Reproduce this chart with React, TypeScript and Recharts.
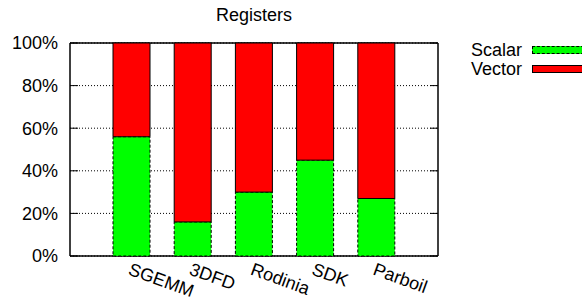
import React from 'react';
import { BarChart, Bar, XAxis, YAxis, CartesianGrid } from 'recharts';

const categories = ['SGEMM', '3DFD', 'Rodinia', 'SDK', 'Parboil'];
const scalarValues = [56, 16, 30, 45, 27];
const vectorValues = [44, 84, 70, 55, 73];
const yTicks = [0, 20, 40, 60, 80, 100];

const data = categories.map((name, i) => ({
  name,
  Scalar: scalarValues[i],
  Vector: vectorValues[i],
}));

const FONT = '"Liberation Sans", Arial, Helvetica, sans-serif';
const FS = 18;
const W = 582;
const H = 299;
const PLOT_LEFT = 70;
const PLOT_RIGHT = 438;
const PLOT_TOP = 43;
const PLOT_BOTTOM = 256;

const LeftTick = (props: any) => {
  const { y, payload } = props;
  return (
    <g>
      <line x1={PLOT_LEFT} x2={PLOT_LEFT + 8} y1={y} y2={y} stroke="#000" strokeWidth={1} />
      <line x1={PLOT_RIGHT - 8} x2={PLOT_RIGHT} y1={y} y2={y} stroke="#000" strokeWidth={1} />
      <text x={PLOT_LEFT - 12} y={y} dy="0.36em" textAnchor="end" fontSize={FS} fontFamily={FONT} fill="#000">
        {payload.value}%
      </text>
    </g>
  );
};

const BottomTick = (props: any) => {
  const { x, payload } = props;
  const y0 = PLOT_BOTTOM + 6;
  return (
    <text
      x={x}
      y={y0}
      dy="0.72em"
      textAnchor="start"
      transform={`rotate(20, ${x}, ${y0})`}
      fontSize={FS}
      fontFamily={FONT}
      fill="#000"
    >
      {payload.value}
    </text>
  );
};

export default function App() {
  return (
    <div style={{ position: 'absolute', left: 0, top: 0, width: W, height: H, overflow: 'hidden', background: '#fff', fontFamily: FONT }}>
      <BarChart
        width={W}
        height={H}
        data={data}
        margin={{ top: PLOT_TOP, right: W - PLOT_RIGHT, bottom: 0, left: 0 }}
      >
        <CartesianGrid vertical={false} stroke="#000" strokeDasharray="1 2" />
        <CartesianGrid
          horizontal={false}
          verticalPoints={[PLOT_LEFT, PLOT_RIGHT]}
          stroke="#000"
          strokeWidth={1.5}
        />
        <CartesianGrid
          vertical={false}
          horizontalPoints={[PLOT_TOP, PLOT_BOTTOM]}
          stroke="#000"
          strokeWidth={1.5}
        />
        <XAxis
          dataKey="name"
          height={H - PLOT_BOTTOM}
          padding={{ left: 31, right: 31 }}
          axisLine={false}
          tickLine={false}
          tick={<BottomTick />}
          interval={0}
        />
        <YAxis
          width={PLOT_LEFT}
          domain={[0, 100]}
          ticks={yTicks}
          axisLine={false}
          tickLine={false}
          tick={<LeftTick />}
          interval={0}
        />
        <Bar
          dataKey="Scalar"
          stackId="a"
          fill="#00ff00"
          stroke="#000"
          strokeWidth={1}
          strokeDasharray="3 2"
          barSize={37}
          isAnimationActive={false}
        />
        <Bar
          dataKey="Vector"
          stackId="a"
          fill="#ff0000"
          stroke="#000"
          strokeWidth={1}
          barSize={37}
          isAnimationActive={false}
        />
      </BarChart>
      <div
        style={{
          position: 'absolute',
          left: PLOT_LEFT,
          width: PLOT_RIGHT - PLOT_LEFT,
          top: 6,
          textAlign: 'center',
          fontSize: FS,
          lineHeight: `${FS}px`,
          color: '#000',
        }}
      >
        Registers
      </div>
      <div style={{ position: 'absolute', right: W - 522, top: 41, fontSize: FS, lineHeight: `${FS}px`, color: '#000', textAlign: 'right' }}>
        Scalar
      </div>
      <div style={{ position: 'absolute', right: W - 522, top: 60, fontSize: FS, lineHeight: `${FS}px`, color: '#000', textAlign: 'right' }}>
        Vector
      </div>
      <div style={{ position: 'absolute', left: 532, top: 46, width: 60, height: 6, background: '#00ff00', border: '1px dashed #000' }} />
      <div style={{ position: 'absolute', left: 532, top: 65, width: 60, height: 6, background: '#ff0000', border: '1px solid #000' }} />
    </div>
  );
}
